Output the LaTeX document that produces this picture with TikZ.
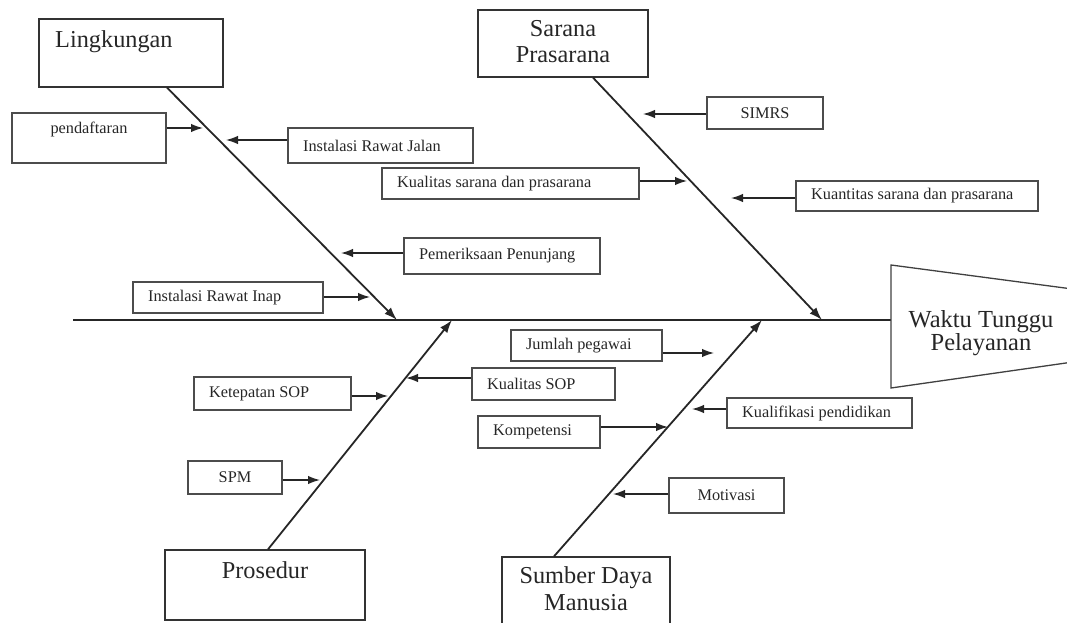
\documentclass[tikz,border=0pt]{standalone}
\usepackage{fontspec}
\setmainfont{Liberation Serif}
\usetikzlibrary{arrows.meta}
\begin{document}
\begin{tikzpicture}[x=1pt,y=-1pt,
  box/.style={draw=black!70, line width=1.1pt, inner sep=0pt, text=black!85, font=\fontsize{16.3}{18}\selectfont},
  cause/.style={box, label={[smalltxt, anchor=west, xshift=15.5pt]west:#1}},
  bigbox/.style={draw=black!80, line width=1.3pt, inner sep=0pt},
  bigtxt/.style={font=\fontsize{24.3}{27}\selectfont, text=black!85, inner sep=0pt},
  headtxt/.style={font=\fontsize{24.5}{22}\selectfont, text=black!85, inner sep=0pt, align=center},
  smalltxt/.style={font=\fontsize{16.3}{18}\selectfont, text=black!85, inner sep=0pt},
  bone/.style={draw=black!85, line width=1.8pt, -{Latex[length=13pt,width=9pt]}},
  sub/.style={draw=black!85, line width=1.4pt, -{Latex[length=12pt,width=8.5pt]}},
]
\path[use as bounding box] (0,0) rectangle (1067,623);

% main spine and head
\coordinate (S) at (73,320);
\coordinate (H) at (891,320);
\draw[black!85, line width=1.6pt] (S) -- (H);
\draw[black!75, line width=1.3pt] (1080,290) -- (891,265) -- (891,388) -- (1080,361);
\node[headtxt, anchor=north] (W) at (981,310.5) {Waktu Tunggu\\Pelayanan};

% category boxes
\node[bigbox, minimum width=184pt, minimum height=68pt] (L) at (131,53) {};
\node[bigtxt, anchor=base west] (Lt) at (55,48) {Lingkungan};
\node[bigbox, minimum width=170pt, minimum height=67pt] (SP) at (563,43.5) {};
\node[bigtxt, anchor=base] (SPt1) at (563,37) {Sarana};
\node[bigtxt, anchor=base] (SPt2) at (563,63) {Prasarana};
\node[bigbox, minimum width=200pt, minimum height=70pt] (P) at (265,585) {};
\node[bigtxt, anchor=base] (Pt) at (265,578) {Prosedur};
\node[bigbox, minimum width=168pt, minimum height=76pt] (SDM) at (586,595) {};
\node[bigtxt, anchor=base] (SDMt1) at (586,583) {Sumber Daya};
\node[bigtxt, anchor=base] (SDMt2) at (586,610) {Manusia};

% bones
\coordinate (Le) at (397,320);
\coordinate (SPe) at (822,320);
\coordinate (Pe) at (452,320);
\coordinate (SDMe) at (762,320);
\draw[bone] ([xshift=36pt]L.south) -- (Le);
\draw[bone] ([xshift=30pt]SP.south) -- (SPe);
\draw[bone] ([xshift=3pt]P.north) -- (Pe);
\draw[bone] ([xshift=-32pt]SDM.north) -- (SDMe);

% cause boxes
\node[box, minimum width=154pt, minimum height=50pt] (pend) at (89,138) {};
\node[smalltxt, anchor=base] (pendt) at (89,133) {pendaftaran};
\node[cause=Instalasi Rawat Jalan, minimum width=185pt, minimum height=35pt] (IRJ) at (380.5,145.5) {};
\node[cause=Kualitas sarana dan prasarana, minimum width=257pt, minimum height=31pt] (KSP) at (510.5,183.5) {};
\node[cause=Pemeriksaan Penunjang, minimum width=196pt, minimum height=36pt] (PP) at (502,256) {};
\node[cause=Instalasi Rawat Inap, minimum width=190pt, minimum height=31pt] (IRI) at (228,297.5) {};
\node[box, minimum width=116pt, minimum height=32pt] (SIMRS) at (765,113) {SIMRS};
\node[cause=Kuantitas sarana dan prasarana, minimum width=242pt, minimum height=30pt] (KuSP) at (917,196) {};
\node[cause=Ketepatan SOP, minimum width=157pt, minimum height=33pt] (KetSOP) at (272.5,393.5) {};
\node[box, minimum width=94pt, minimum height=33pt] (SPM) at (235,477.5) {SPM};
\node[cause=Kualitas SOP, minimum width=143pt, minimum height=32pt] (KSOP) at (543.5,384) {};
\node[cause=Jumlah pegawai, minimum width=151pt, minimum height=31pt] (JP) at (586.5,345.5) {};
\node[cause=Kompetensi, minimum width=122pt, minimum height=32pt] (Komp) at (539,432) {};
\node[cause=Kualifikasi pendidikan, minimum width=185pt, minimum height=30pt] (KP) at (819.5,413) {};
\node[box, minimum width=115pt, minimum height=35pt] (Mot) at (726.5,495.5) {Motivasi};

% arrow tips
\coordinate (t1) at (203,128);
\coordinate (t2) at (226,140);
\coordinate (t3) at (341,253);
\coordinate (t4) at (370,297);
\coordinate (t5) at (643,114);
\coordinate (t6) at (687,181);
\coordinate (t7) at (731,198);
\coordinate (t8) at (388,396);
\coordinate (t9) at (320,480);
\coordinate (t10) at (406,378);
\coordinate (t11) at (714,353);
\coordinate (t12) at (668,427);
\coordinate (t13) at (692,409);
\coordinate (t14) at (613,494);

\draw[sub] (pend.east |- t1) -- (t1);
\draw[sub] (IRJ.west |- t2) -- (t2);
\draw[sub] (PP.west |- t3) -- (t3);
\draw[sub] (IRI.east |- t4) -- (t4);
\draw[sub] (SIMRS.west |- t5) -- (t5);
\draw[sub] (KSP.east |- t6) -- (t6);
\draw[sub] (KuSP.west |- t7) -- (t7);
\draw[sub] (KetSOP.east |- t8) -- (t8);
\draw[sub] (SPM.east |- t9) -- (t9);
\draw[sub] (KSOP.west |- t10) -- (t10);
\draw[sub] (JP.east |- t11) -- (t11);
\draw[sub] (Komp.east |- t12) -- (t12);
\draw[sub] (KP.west |- t13) -- (t13);
\draw[sub] (Mot.west |- t14) -- (t14);
\end{tikzpicture}
\end{document}
